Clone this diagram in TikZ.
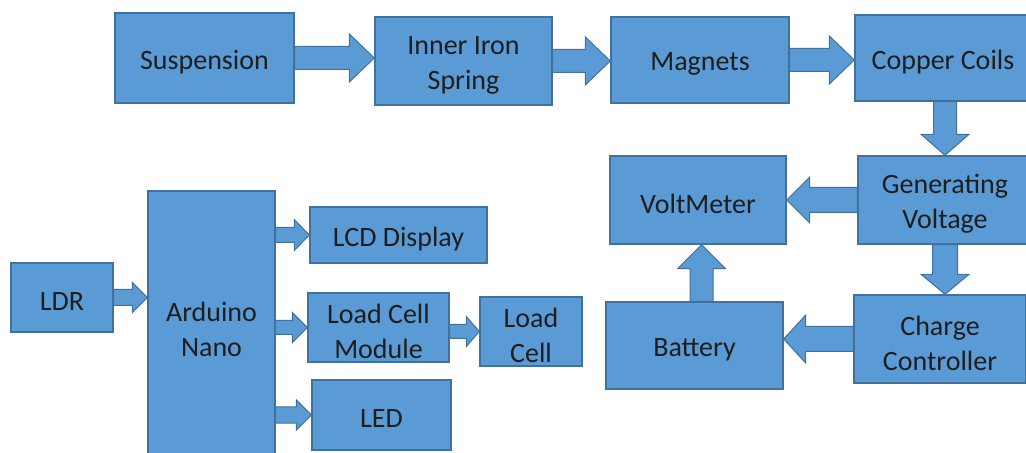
\documentclass[tikz,border=0pt]{standalone}
\usepackage{fontspec}
\setmainfont{Carlito}
\usetikzlibrary{calc}
\definecolor{boxfill}{HTML}{5B9BD5}
\definecolor{boxline}{HTML}{41719C}
\definecolor{txt}{HTML}{1E1E1E}
\tikzset{
  box/.style={draw=boxline, fill=boxfill, line width=0.7pt, inner sep=0pt},
  lbl/.style={align=center, text=txt, inner sep=0pt, yshift=-2pt,
    font=\fontsize{14}{17.5}\selectfont},
  barr/.style={draw=boxline, fill=boxfill, line width=0.5pt, line join=miter}
}
\newcommand\barrow[5]{%
  \coordinate (bh) at ($(#2)!#5!(#1)$);
  \draw[barr] ($(#1)!#3!90:(#2)$) -- ($(bh)!#3!90:(#2)$) -- ($(bh)!#4!90:(#2)$)
    -- (#2) -- ($(bh)!#4!-90:(#2)$) -- ($(bh)!#3!-90:(#2)$)
    -- ($(#1)!#3!-90:(#2)$) -- cycle;
}
\begin{document}
\begin{tikzpicture}[x=0.5pt,y=-0.5pt]
\useasboundingbox (0,0) rectangle (1026,453);
% top row
\node[box, minimum width=89.5pt, minimum height=45pt, label={[lbl]center:Suspension}] (sus) at (204.5,58) {};
\node[box, minimum width=88.5pt, minimum height=44pt, label={[lbl]center:Inner Iron\\Spring}] (iis) at (463.5,61) {};
\node[box, minimum width=89pt, minimum height=43pt, label={[lbl]center:Magnets}] (mag) at (700,60) {};
\node[box, minimum width=88pt, minimum height=43pt, label={[lbl]center:Copper Coils}] (cc) at (943,58) {};
% right column
\node[box, minimum width=87pt, minimum height=44pt, label={[lbl]center:Generating\\Voltage}] (gv) at (945,200) {};
\node[box, minimum width=88pt, minimum height=44pt, label={[lbl]center:VoltMeter}] (vm) at (698,200) {};
\node[box, minimum width=86pt, minimum height=44pt, label={[lbl]center:Charge\\Controller}] (ch) at (940,339) {};
\node[box, minimum width=88.5pt, minimum height=43.5pt, label={[lbl]center:Battery}] (bat) at (694.5,345.5) {};
% left part
\node[box, minimum width=51pt, minimum height=34.5pt, label={[lbl]center:LDR}] (ldr) at (62,297.5) {};
\node[box, minimum width=63.5pt, minimum height=134pt, label={[lbl]center:Arduino\\Nano}] (ard) at (211.5,325) {};
\node[box, minimum width=88.5pt, minimum height=28pt, label={[lbl]center:LCD Display}] (lcd) at (398.5,235) {};
\node[box, minimum width=70.5pt, minimum height=34.5pt, label={[lbl]center:Load Cell\\Module}] (lcm) at (378.5,327.5) {};
\node[box, minimum width=51pt, minimum height=34.5pt, label={[lbl]center:Load\\Cell}] (lc) at (531,331.5) {};
\node[box, minimum width=69.5pt, minimum height=35pt, label={[lbl]center:LED}] (led) at (381.5,415) {};
% connectors
\coordinate (t1) at (iis.west |- sus.east);
\barrow{sus.east}{t1}{5.75pt}{12pt}{12.5pt}
\coordinate (t2) at (mag.west |- iis.east);
\barrow{iis.east}{t2}{5.75pt}{12pt}{12.5pt}
\coordinate (t3) at (cc.west |- mag.east);
\barrow{mag.east}{t3}{5.75pt}{12pt}{12.5pt}
\coordinate (c1) at (gv.north |- cc.south);
\barrow{c1}{gv.north}{5.75pt}{12pt}{10.5pt}
\barrow{gv.west}{vm.east}{6.25pt}{11.5pt}{11.5pt}
\coordinate (c2) at (ch.north -| gv.south);
\barrow{gv.south}{c2}{6.25pt}{12pt}{10pt}
\coordinate (c3) at (bat.east |- ch.west);
\barrow{ch.west}{c3}{6.25pt}{12pt}{11pt}
\coordinate (c4) at ($(bat.north)+(7,0)$);
\coordinate (c5) at (c4 |- vm.south);
\barrow{c4}{c5}{5.75pt}{12pt}{12pt}
\coordinate (c6) at (ard.west |- ldr.east);
\barrow{ldr.east}{c6}{4pt}{7.5pt}{7.5pt}
\coordinate (c7) at (ard.east |- lcd.west);
\barrow{c7}{lcd.west}{3.75pt}{7.75pt}{7.5pt}
\coordinate (c8) at (ard.east |- lcm.west);
\barrow{c8}{lcm.west}{3.5pt}{7.5pt}{7.5pt}
\coordinate (c9) at (ard.east |- led.west);
\barrow{c9}{led.west}{4pt}{7.5pt}{7.5pt}
\coordinate (c10) at (lcm.east |- lc.west);
\barrow{c10}{lc.west}{3.5pt}{7.5pt}{6.5pt}
\end{tikzpicture}
\end{document}
